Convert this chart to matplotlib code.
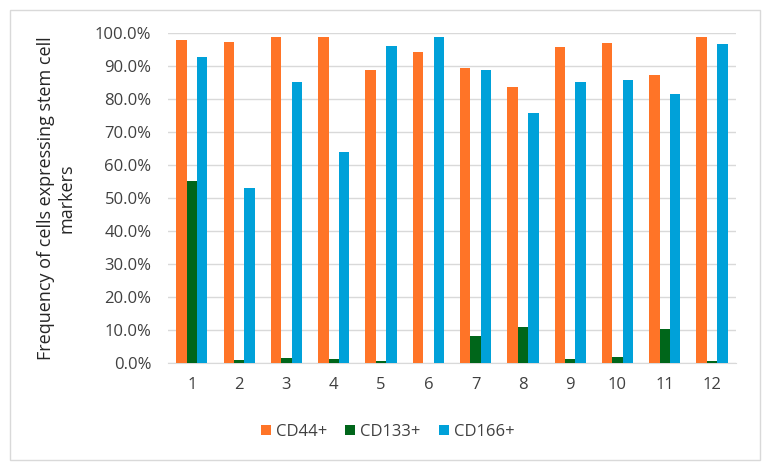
import numpy as np
import matplotlib

matplotlib.use("Agg")
import matplotlib.pyplot as plt
from matplotlib.patches import Rectangle
from matplotlib.ticker import FuncFormatter

# data (percent)
samples = [str(i) for i in range(1, 13)]
cd44 = [97.9, 97.1, 98.9, 98.9, 88.7, 94.2, 89.4, 83.6, 95.7, 96.8, 87.3, 98.7]
cd133 = [55.2, 1.0, 1.5, 1.1, 0.5, 0.0, 8.0, 10.9, 1.1, 1.8, 10.3, 0.6]
cd166 = [92.8, 53.0, 85.0, 64.0, 96.0, 98.9, 88.7, 75.8, 85.1, 85.7, 81.5, 96.6]

series = [("CD44+", cd44, "#FF7427"),
          ("CD133+", cd133, "#00661A"),
          ("CD166+", cd166, "#00A1D9")]

plt.rcParams["font.family"] = ["Open Sans", "DejaVu Sans"]

fig = plt.figure(figsize=(7.68, 4.70), dpi=100)
ax = fig.add_axes([0.219, 0.228, 0.739, 0.702])

# thin frame around the chart area
fig.patches.append(Rectangle((10 / 768, 1 - 460 / 470), 750 / 768, 450 / 470,
                             transform=fig.transFigure, fill=False,
                             edgecolor="#d9d9d9", linewidth=1.0))

x = np.arange(len(samples))
width = 0.22
for i, (name, vals, color) in enumerate(series):
    ax.bar(x + (i - 1) * width, np.array(vals) / 100.0, width,
           color=color, label=name, zorder=3)

ax.set_xlim(-0.5, len(samples) - 0.5)
ax.set_ylim(0, 1.0)
ax.set_yticks(np.arange(0, 1.01, 0.1))
ax.yaxis.set_major_formatter(FuncFormatter(lambda v, _: f"{v * 100:.1f}%"))
ax.set_xticks(x)
ax.set_xticklabels(samples)
ax.grid(axis="y", color="#d9d9d9", linewidth=1.0, zorder=0)
for side in ["top", "right", "left"]:
    ax.spines[side].set_visible(False)
ax.spines["bottom"].set_color("#d9d9d9")
ax.tick_params(axis="both", length=0, labelsize=12, colors="#404040")
ax.tick_params(axis="x", pad=10)
ax.tick_params(axis="y", pad=12)

ax.set_ylabel("Frequency of cells expressing stem cell\nmarkers",
              fontsize=13, color="#262626", labelpad=14)

ax.legend(loc="upper center", bbox_to_anchor=(0.387, -0.14), ncol=3,
          frameon=False, fontsize=12, handlelength=0.6, handleheight=0.6,
          handletextpad=0.3, columnspacing=1.1, labelcolor="#404040")

fig.savefig("out.png", dpi=100)
